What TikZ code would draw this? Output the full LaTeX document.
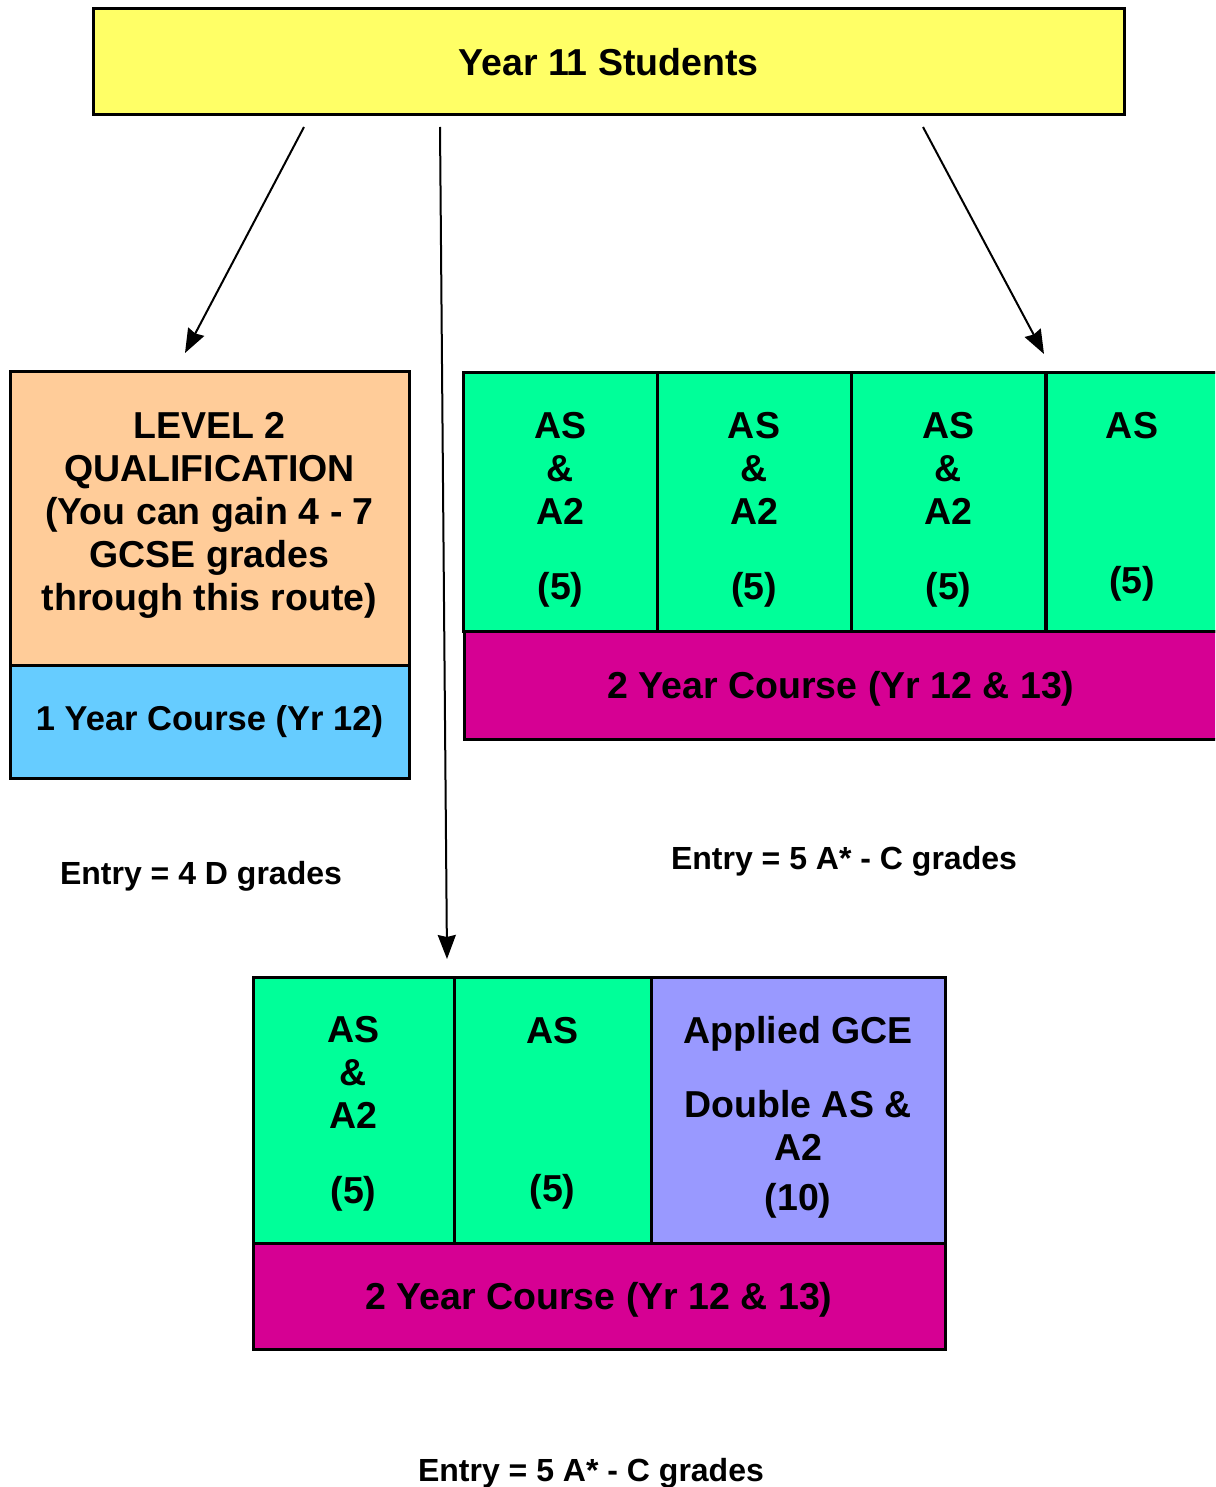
\documentclass[tikz,border=0pt]{standalone}
\usepackage{fontspec}
\setmainfont{Liberation Sans}
\usetikzlibrary{arrows.meta}
\definecolor{yearyellow}{HTML}{FFFF66}
\definecolor{lvlorange}{HTML}{FFCC99}
\definecolor{oneblue}{HTML}{66CCFF}
\definecolor{asgreen}{HTML}{00FF99}
\definecolor{twomagenta}{HTML}{D60093}
\definecolor{gcelilac}{HTML}{9999FF}
\tikzset{
  box/.style={draw, line width=3pt, inner sep=0pt},
  cell/.style={box, fill=asgreen, minimum height=#1},
  txt/.style={align=center, inner sep=0pt, font=\bfseries\fontsize{37.5}{43}\selectfont},
  arr/.style={-{Stealth[length=24pt,width=18pt,inset=2pt]}, line width=2pt},
  entry/.style={font=\bfseries\fontsize{32}{38}\selectfont, inner sep=0pt}
}
\begin{document}
\begin{tikzpicture}[x=1pt,y=-1pt]
  \useasboundingbox (0,0) rectangle (1215,1487);
  \clip (0,0) rectangle (1215,1487);

  \node[box, fill=yearyellow, minimum width=1031, minimum height=106] (top) at (608.5,62) {};
  \node[txt] (top txt) at (top) {Year 11 Students};

  % level 2 route
  \node[box, fill=lvlorange, minimum width=399, minimum height=294] (lvl) at (209.5,518) {};
  \node[txt, yshift=3pt] (lvl txt) at (lvl)
    {LEVEL 2\\QUALIFICATION\\(You can gain 4 - 7\\GCSE grades\\through this route)};
  \node[box, fill=oneblue, minimum width=399, minimum height=113] (one) at (209.5,721.5) {};
  \node[txt, font=\bfseries\fontsize{34.5}{40}\selectfont] (one txt) at (one) {1 Year Course (Yr 12)};
  \node[entry, yshift=-3pt] (entryA) at (201,873) {Entry = 4 D grades};

  % AS / A2 route
  \foreach \x/\n in {560.5/1,754/2,948.5/3}{
      \node[cell=259, minimum width=194] (r\n) at (\x,501.5) {};
      \node[txt, yshift=-8pt] (r\n txt) at (r\n) {AS\\\&\\A2\\[32pt](5)};
  }
  \node[cell=259, minimum width=172] (r4) at (1132,501.5) {};
  \node[txt, yshift=-5pt] (r4 txt) at (r4) {AS\\[112pt](5)};
  \node[box, fill=twomagenta, minimum width=754, minimum height=108] (rtwo) at (841,685) {};
  \node[txt, yshift=-4pt] (rtwo txt) at (rtwo) {2 Year Course (Yr 12 \& 13)};
  \node[entry, yshift=-3pt] (entryB) at (844,858) {Entry = 5 A* - C grades};

  % applied route
  \node[cell=266, minimum width=201] (b1) at (353.5,1110) {};
  \node[txt, yshift=-4pt] (b1 txt) at (b1) {AS\\\&\\A2\\[32pt](5)};
  \node[cell=266, minimum width=197] (b2) at (552.5,1110) {};
  \node[txt, yshift=-3pt] (b2 txt) at (b2) {AS\\[115pt](5)};
  \node[box, fill=gcelilac, minimum width=294, minimum height=266] (b3) at (798,1110) {};
  \node[txt, yshift=-7pt] (b3 txt) at (b3) {Applied GCE\\[31pt]Double AS \&\\A2\\[7pt](10)};
  \node[box, fill=twomagenta, minimum width=692, minimum height=106] (btwo) at (599,1296) {};
  \node[txt, yshift=-4pt] (btwo txt) at (btwo) {2 Year Course (Yr 12 \& 13)};
  \node[entry, yshift=-3pt] (entryC) at (591,1470) {Entry = 5 A* - C grades};

  % arrows
  \coordinate (s1) at (304,127);
  \coordinate (s2) at (440,127);
  \coordinate (s3) at (923,127);
  \coordinate (e1) at (185,353);
  \coordinate (e2) at (447,959);
  \coordinate (e3) at (1044,354);
  \draw[arr] (s1) -- (e1);
  \draw[arr] (s2) -- (e2);
  \draw[arr] (s3) -- (e3);
\end{tikzpicture}
\end{document}
